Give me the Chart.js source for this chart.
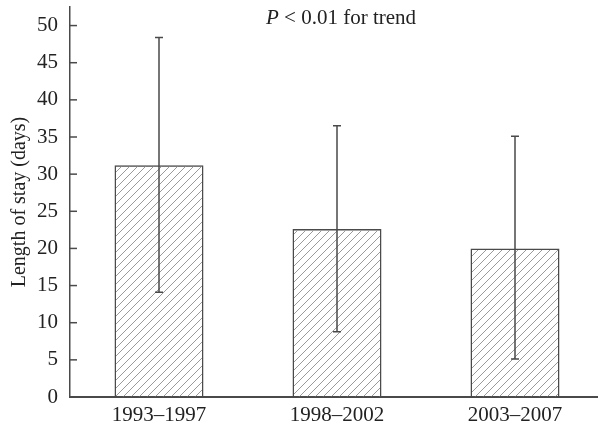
<!DOCTYPE html>
<html>
<head>
<meta charset="utf-8">
<script src="https://cdn.jsdelivr.net/npm/chart.js@4/dist/chart.umd.min.js"></script>
<style>
  html, body { margin: 0; padding: 0; background: #fff; overflow: hidden; }
  #wrap { width: 604px; height: 432px; }
</style>
</head>
<body>
<div id="wrap"><canvas id="myBarChart" width="604" height="432"></canvas></div>
<script>
// values
const periods = ['1993\u20131997', '1998\u20132002', '2003\u20132007'];
const meanStay = [31.2, 22.6, 20.0];
const errLow = [14.1, 8.8, 5.1];
const errHigh = [48.4, 36.5, 35.1];
const yTicks = [0, 5, 10, 15, 20, 25, 30, 35, 40, 45, 50];

const serif = "'Liberation Serif', 'Times New Roman', serif";
const ink = '#4a4a4a';

// diagonal hatch fill
function hatch() {
  const c = document.createElement('canvas');
  c.width = 8; c.height = 8;
  const g = c.getContext('2d');
  g.strokeStyle = '#9a9a9a';
  g.lineWidth = 1;
  g.beginPath();
  g.moveTo(0, 8); g.lineTo(8, 0);
  g.moveTo(-1, 1); g.lineTo(1, -1);
  g.moveTo(7, 9); g.lineTo(9, 7);
  g.stroke();
  return g.createPattern(c, 'repeat');
}

// error bars + inward y ticks + trend note
const extras = {
  id: 'extras',
  afterDatasetsDraw(chart) {
    const ctx = chart.ctx;
    const x = chart.scales.x, y = chart.scales.y;
    ctx.save();
    ctx.strokeStyle = ink;
    ctx.lineWidth = 1.5;
    periods.forEach((p, i) => {
      const cx = x.getPixelForValue(i);
      const yl = y.getPixelForValue(errLow[i]);
      const yh = y.getPixelForValue(errHigh[i]);
      ctx.beginPath();
      ctx.moveTo(cx, yl); ctx.lineTo(cx, yh);
      ctx.moveTo(cx - 4, yl); ctx.lineTo(cx + 4, yl);
      ctx.moveTo(cx - 4, yh); ctx.lineTo(cx + 4, yh);
      ctx.stroke();
    });
    // tick marks pointing into the plot
    yTicks.forEach(v => {
      const py = y.getPixelForValue(v);
      ctx.beginPath();
      ctx.moveTo(chart.chartArea.left, py);
      ctx.lineTo(chart.chartArea.left + 7, py);
      ctx.stroke();
    });
    // P < 0.01 for trend
    ctx.fillStyle = '#222';
    ctx.textBaseline = 'middle';
    const it = 'italic 21px ' + serif, rm = '21px ' + serif;
    ctx.font = it; const w1 = ctx.measureText('P').width;
    ctx.font = rm; const rest = ' < 0.01 for trend'; const w2 = ctx.measureText(rest).width;
    let sx = (chart.chartArea.left + chart.chartArea.right) / 2 + 4 - (w1 + w2) / 2;
    ctx.font = it; ctx.fillText('P', sx, 18);
    ctx.font = rm; ctx.fillText(rest, sx + w1, 18);
    ctx.restore();
  }
};

var myBarChart = new Chart(document.getElementById('myBarChart'), {
  type: 'bar',
  data: {
    labels: periods,
    datasets: [{
      label: 'Length of stay',
      data: meanStay,
      backgroundColor: hatch(),
      borderColor: ink,
      borderWidth: { top: 1.5, left: 1.5, right: 1.5, bottom: 0 },
      borderSkipped: false,
      barPercentage: 0.5,
      categoryPercentage: 1.0
    }]
  },
  options: {
    responsive: false,
    animation: false,
    devicePixelRatio: 1,
    layout: { padding: { top: 7, right: 0, bottom: 0, left: 0 } },
    plugins: {
      legend: { display: false },
      tooltip: { enabled: false }
    },
    scales: {
      x: {
        grid: { display: false, drawTicks: false },
        border: { display: true, color: ink, width: 2 },
        ticks: { color: '#222', font: { family: serif, size: 21 }, padding: 6 },
        afterFit(s) { s.height = 35; s.paddingLeft = 0; s.paddingRight = 0; }
      },
      y: {
        min: 0,
        max: 52.5,
        afterBuildTicks(s) { s.ticks = yTicks.map(v => ({ value: v })); },
        grid: { display: true, drawOnChartArea: false, drawTicks: false },
        border: { display: true, color: ink, width: 1.5 },
        ticks: { color: '#222', font: { family: serif, size: 21 }, padding: 12 },
        title: {
          display: true,
          text: 'Length of stay (days)',
          color: '#222',
          font: { family: serif, size: 20 },
          padding: { top: 8, bottom: 0 }
        },
        afterFit(s) { s.width = 70; s.paddingTop = 0; s.paddingBottom = 0; }
      }
    }
  },
  plugins: [extras]
});
</script>
</body>
</html>
